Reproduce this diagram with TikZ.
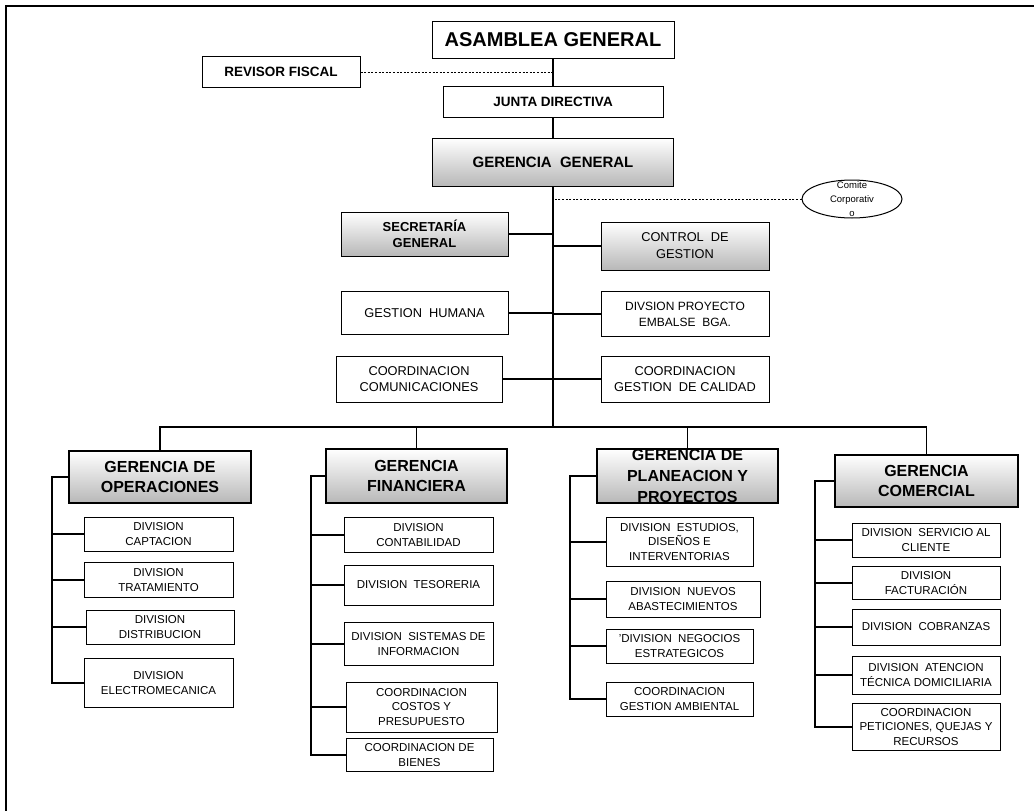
\documentclass[tikz,border=0pt]{standalone}
\usepackage{fontspec}
\setmainfont{Liberation Sans}
\usetikzlibrary{shapes.geometric}

\begin{document}
\begin{tikzpicture}[x=1pt,y=-1pt,
  box/.style={draw, line width=1pt, fill=white, align=center, inner sep=1pt,
    font=\fontsize{11.5}{14.5}\selectfont},
  midbox/.style={box, font=\fontsize{12.8}{16}\selectfont},
  shbox/.style={box, top color=white, bottom color=black!28,
    font=\bfseries\fontsize{13}{16}\selectfont},
  gerbox/.style={shbox, line width=1.3pt, minimum width=181, minimum height=54,
    font=\bfseries\fontsize{16}{20}\selectfont},
  link/.style={line width=1.4pt},
  spine/.style={line width=1.8pt},
  dots/.style={line width=1pt, dash pattern=on 2pt off 1.6pt}]
\useasboundingbox (0,0) rectangle (1034,811);
\draw[line width=2.4pt] (6,811) -- (6,6) -- (1034,6);

% cabeza
\node[box, minimum width=242, minimum height=37, font=\bfseries\fontsize{20}{24}\selectfont]
  (asamblea) at (553,40) {ASAMBLEA GENERAL};
\node[box, minimum width=158, minimum height=31, font=\bfseries\fontsize{13.5}{16}\selectfont]
  (revisor) at (281,72) {REVISOR FISCAL};
\node[box, minimum width=220, minimum height=31, font=\bfseries\fontsize{13.5}{16}\selectfont]
  (junta) at (553,101.5) {JUNTA DIRECTIVA};
\node[shbox, minimum width=241, minimum height=48, font=\bfseries\fontsize{15}{18}\selectfont]
  (gergen) at (553,162) {GERENCIA\ \ GENERAL};
\node[draw, ellipse, line width=1pt, fill=white, minimum width=100, minimum height=38]
  (comite) at (852,199) {};
\node[font=\fontsize{9.5}{14}\selectfont, align=center] (comitetxt) at (comite) {Comite\\Corporativ\\o};

% staff
\node[shbox, minimum width=167, minimum height=44] (secgen) at (424.5,234) {SECRETARÍA\\GENERAL};
\node[shbox, minimum width=168, minimum height=48, font=\fontsize{12.8}{17}\selectfont]
  (control) at (685,246) {CONTROL\ \ DE\\GESTION};
\node[midbox, minimum width=167, minimum height=43] (gesthum) at (424.5,313) {GESTION\ \ HUMANA};
\node[midbox, minimum width=168, minimum height=45, font=\fontsize{12}{16}\selectfont]
  (embalse) at (685,314) {DIVSION PROYECTO\\EMBALSE\ \ BGA.};
\node[midbox, minimum width=166, minimum height=46] (comunic) at (419,379) {COORDINACION\\COMUNICACIONES};
\node[midbox, minimum width=168, minimum height=46] (calidad) at (685,379) {COORDINACION\\GESTION\ \ DE CALIDAD};

\coordinate (bus) at (553,427);
\draw[spine] (asamblea.south) -- (junta.north) (junta.south) -- (gergen.north) (gergen.south) -- (bus);
\draw[dots] (revisor.east) -- (revisor.east -| asamblea.south);
\draw[dots] (comite.west) -- (comite.west -| bus);
\foreach \b in {secgen,gesthum,comunic}
  \draw[link] (\b.east) -- (\b.east -| bus);
\foreach \b in {control,embalse,calidad}
  \draw[link] (\b.west) -- (\b.west -| bus);

% gerencias
\node[gerbox, minimum width=182, minimum height=52] (geroper) at (160,477) {GERENCIA DE\\OPERACIONES};
\node[gerbox] (gerfin) at (416.5,476) {GERENCIA\\FINANCIERA};
\node[gerbox] (gerplan) at (687.5,476) {};
\node[font=\bfseries\fontsize{16}{21}\selectfont, align=center] (gerplantxt) at (gerplan)
  {GERENCIA DE\\PLANEACION Y\\PROYECTOS};
\node[gerbox, minimum width=183, minimum height=52] (gercom) at (926.5,481) {GERENCIA\\COMERCIAL};
\draw[link] (geroper.north) |- (bus) -| (gercom.north);
\foreach \g in {gerfin,gerplan}
  \draw[link] (\g.north) -- (\g.north |- bus);

% divisiones
\foreach \n/\x/\y/\w/\h/\t in {
  captacion/158.5/534/149/34/{DIVISION\\CAPTACION},
  tratam/158.5/580/149/35/{DIVISION\\TRATAMIENTO},
  distrib/160/627/148/34/{DIVISION\\DISTRIBUCION},
  electro/158.5/683/149/49/{DIVISION\\ELECTROMECANICA},
  contab/418.5/535/149/35/{DIVISION\\CONTABILIDAD},
  tesor/418.5/585/149/40/{DIVISION\ \ TESORERIA},
  sistemas/418.5/644/149/43/{DIVISION\ \ SISTEMAS\ DE\\INFORMACION},
  costos/421.5/707/151/50/{COORDINACION\\COSTOS Y\\PRESUPUESTO},
  bienes/419.5/755/147/33/{COORDINACION DE\\BIENES},
  estudios/679.5/542/147/49/{DIVISION\ \ ESTUDIOS,\\DISEÑOS E\\INTERVENTORIAS},
  nuevos/683/599/154/36/{DIVISION\ \ NUEVOS\\ABASTECIMIENTOS},
  negocios/679.5/646/147/34/{'DIVISION\ \ NEGOCIOS\\ESTRATEGICOS},
  ambiental/679.5/699/147/34/{COORDINACION\\GESTION AMBIENTAL},
  servicio/926/540/148/34/{DIVISION\ \ SERVICIO AL\\CLIENTE},
  factur/926/583/148/33/{DIVISION\\FACTURACIÓN},
  cobranzas/926/627/148/36/{DIVISION\ \ COBRANZAS},
  atencion/926/675/148/38/{DIVISION\ \ ATENCION\\TÉCNICA\ DOMICILIARIA},
  peticiones/926/727/148/47/{COORDINACION\\PETICIONES,\ QUEJAS Y\\RECURSOS}}
  \node[box, minimum width=\w, minimum height=\h] (\n) at (\x,\y) {\t};

\coordinate (opx) at (52,0);
\coordinate (finx) at (311,0);
\coordinate (plax) at (570,0);
\coordinate (comx) at (815,0);
\draw[link] (geroper.west) -| (opx |- electro.west) -- (electro.west);
\draw[link] (gerfin.west) -| (finx |- bienes.west) -- (bienes.west);
\draw[link] (gerplan.west) -| (plax |- ambiental.west) -- (ambiental.west);
\draw[link] (gercom.west) -| (comx |- peticiones.west) -- (peticiones.west);
\foreach \b in {captacion,tratam,distrib}
  \draw[link] (\b.west) -- (\b.west -| opx);
\foreach \b in {contab,tesor,sistemas,costos}
  \draw[link] (\b.west) -- (\b.west -| finx);
\foreach \b in {estudios,nuevos,negocios}
  \draw[link] (\b.west) -- (\b.west -| plax);
\foreach \b in {servicio,factur,cobranzas,atencion}
  \draw[link] (\b.west) -- (\b.west -| comx);
\end{tikzpicture}
\end{document}
